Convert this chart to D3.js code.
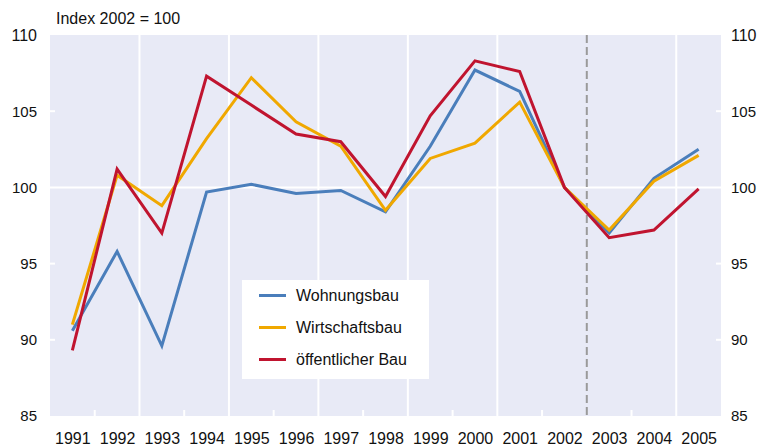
<!DOCTYPE html>
<html>
<head>
<meta charset="utf-8">
<script src="https://cdn.jsdelivr.net/npm/d3@7"></script>
<style>
	body {margin: 0; background: #fff;}
	text {font-family: "Liberation Sans", Arial, sans-serif; fill: #111;}
</style>
</head>
<body>
<script>
var years = [1991, 1992, 1993, 1994, 1995, 1996, 1997, 1998, 1999, 2000, 2001, 2002, 2003, 2004, 2005];
var wohnungsbau = [90.6, 95.8, 89.6, 99.7, 100.2, 99.6, 99.8, 98.4, 102.7, 107.7, 106.3, 100, 97.0, 100.6, 102.5];
var wirtschaftsbau = [91.0, 100.8, 98.8, 103.2, 107.2, 104.3, 102.7, 98.5, 101.9, 102.9, 105.6, 100, 97.2, 100.4, 102.1];
var oeffentlich = [89.3, 101.2, 97.0, 107.3, 105.4, 103.5, 103.0, 99.4, 104.7, 108.3, 107.6, 100, 96.7, 97.2, 99.9];
var seriesNames = ["Wohnungsbau", "Wirtschaftsbau", "öffentlicher Bau"];
var yTicks = [85, 90, 95, 100, 105, 110];
var titleText = "Index 2002 = 100";

function graph(){
	var width = 765, height = 447;
	var plot = {left: 50, right: 721, top: 35, bottom: 416};
	var colors = ["#4a7ebb", "#f0a800", "#c0142f"];
	var allSeries = [wohnungsbau, wirtschaftsbau, oeffentlich];

	var xScale = d3.scaleLinear().domain([1990.5, 2005.5]).range([plot.left, plot.right]);
	var yScale = d3.scaleLinear().domain([85, 110]).range([plot.bottom, plot.top]);

	var svg = d3.select("body")
				.append("svg")
				.attr("width", width)
				.attr("height", height);

	svg.append("rect")
		.attr("x", plot.left)
		.attr("y", plot.top)
		.attr("width", plot.right - plot.left)
		.attr("height", plot.bottom - plot.top)
		.attr("fill", "#e8eaf6");

	// year boundaries: full white lines every second one, short ticks in between
	var bounds = years.slice(0, -1).map(function(y){ return y + 0.5; });
	var fullLines = bounds.filter(function(b, i){ return i % 2 == 1 && b != 2002.5; });
	var shortTicks = bounds.filter(function(b, i){ return i % 2 == 0; });

	svg.selectAll(".vgrid")
		.data(fullLines)
		.enter()
		.append("line")
		.attr("x1", function(d){ return xScale(d); })
		.attr("x2", function(d){ return xScale(d); })
		.attr("y1", plot.top)
		.attr("y2", plot.bottom)
		.attr("stroke", "#fff")
		.attr("stroke-width", 2);

	svg.selectAll(".vtick")
		.data(shortTicks)
		.enter()
		.append("line")
		.attr("x1", function(d){ return xScale(d); })
		.attr("x2", function(d){ return xScale(d); })
		.attr("y1", plot.bottom - 6)
		.attr("y2", plot.bottom)
		.attr("stroke", "#fff")
		.attr("stroke-width", 2);

	svg.append("line")
		.attr("x1", plot.left)
		.attr("x2", plot.right)
		.attr("y1", yScale(100))
		.attr("y2", yScale(100))
		.attr("stroke", "#fff")
		.attr("stroke-width", 2);

	var innerTicks = yTicks.filter(function(t){ return t != 85 && t != 110 && t != 100; });
	[[plot.left, plot.left + 5], [plot.right - 5, plot.right]].forEach(function(seg){
		svg.selectAll(null)
			.data(innerTicks)
			.enter()
			.append("line")
			.attr("x1", seg[0])
			.attr("x2", seg[1])
			.attr("y1", function(d){ return yScale(d); })
			.attr("y2", function(d){ return yScale(d); })
			.attr("stroke", "#fff")
			.attr("stroke-width", 2);
	});

	svg.append("line")
		.attr("x1", xScale(2002.5))
		.attr("x2", xScale(2002.5))
		.attr("y1", plot.top)
		.attr("y2", plot.bottom)
		.attr("stroke", "#9a9a9a")
		.attr("stroke-width", 2)
		.attr("stroke-dasharray", "8,4");

	var line = d3.line()
		.x(function(d, i){ return xScale(years[i]); })
		.y(function(d){ return yScale(d); });

	allSeries.forEach(function(s, i){
		svg.append("path")
			.datum(s)
			.attr("d", line)
			.attr("fill", "none")
			.attr("stroke", colors[i])
			.attr("stroke-width", 3)
			.attr("stroke-linejoin", "miter");
	});

	// axes labels
	var yAxisLeft = d3.axisLeft(yScale).tickValues(yTicks).tickSize(0).tickPadding(13);
	var yAxisRight = d3.axisRight(yScale).tickValues(yTicks).tickSize(0).tickPadding(10);
	var xAxis = d3.axisBottom(xScale).tickValues(years).tickFormat(d3.format("d")).tickSize(0).tickPadding(17);

	[svg.append("g").attr("transform", "translate(" + plot.left + ",0)").call(yAxisLeft),
	 svg.append("g").attr("transform", "translate(" + plot.right + ",0)").call(yAxisRight),
	 svg.append("g").attr("transform", "translate(0," + plot.bottom + ")").call(xAxis)
	].forEach(function(g){
		g.select(".domain").remove();
		g.selectAll("text")
			.attr("fill", "#111")
			.style("font-family", "'Liberation Sans', Arial, sans-serif")
			.style("font-size", "15px");
	});
	svg.selectAll("g:last-of-type text").style("font-size", "16px");

	svg.append("text")
		.attr("x", 56)
		.attr("y", 24)
		.style("font-size", "16px")
		.text(titleText);

	// legend
	var legend = svg.append("g");
	legend.append("rect")
		.attr("x", 242)
		.attr("y", 280)
		.attr("width", 187)
		.attr("height", 99)
		.attr("fill", "#fff");

	seriesNames.forEach(function(name, i){
		var y = 295.5 + i * 32;
		legend.append("line")
			.attr("x1", 259)
			.attr("x2", 286)
			.attr("y1", y)
			.attr("y2", y)
			.attr("stroke", colors[i])
			.attr("stroke-width", 3);
		legend.append("text")
			.attr("x", 296)
			.attr("y", y)
			.attr("dy", "0.36em")
			.style("font-size", "16px")
			.text(name);
	});
}

graph()
</script>
</body>
</html>
